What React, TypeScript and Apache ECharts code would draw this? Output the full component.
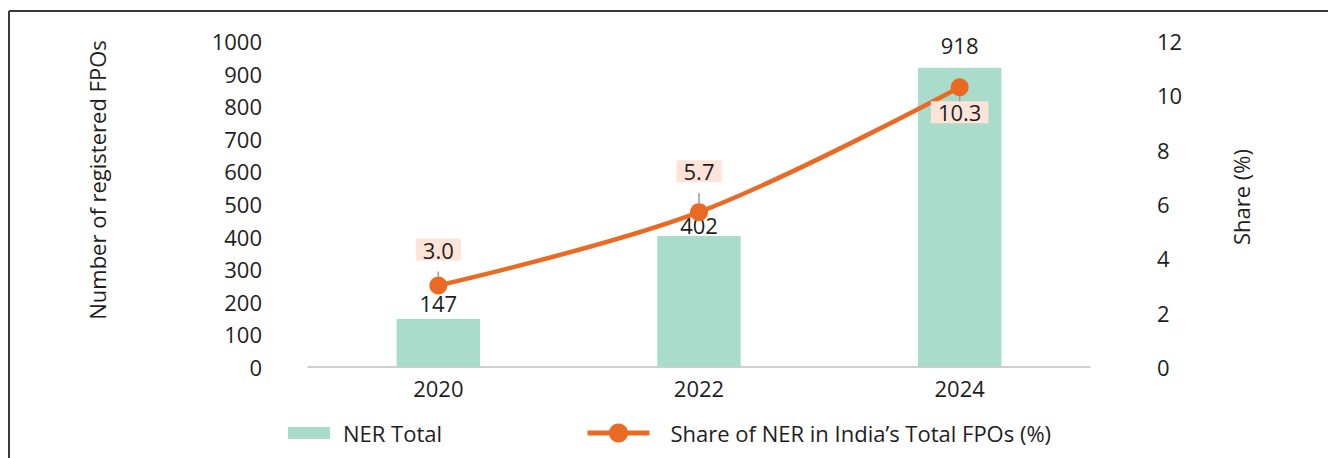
import React, { useEffect, useRef } from "react";
import * as echarts from "echarts";

const years = ["2020", "2022", "2024"];
const nerTotal = [147, 402, 918];
const sharePct = [3.0, 5.7, 10.3];
const barLabelDistance = [5, 0, 12];
const shareLabelPos = ["top", "top", "bottom"];
const shareLabelDistance = [16, 21, 5];

const FONT = "'Open Sans', sans-serif";
const FS = 22;
const TEXT = "#1e1e1e";
const BAR = "#a9dccb";
const ORANGE = "#ea6a24";
const PEACH = "#fde3d8";

export default function App() {
  const ref = useRef<HTMLDivElement>(null);
  useEffect(() => {
    if (!ref.current) return;
    const chart = echarts.init(ref.current, undefined, { renderer: "svg" });
    chart.setOption({
      animation: false,
      backgroundColor: "#ffffff",
      textStyle: { fontFamily: FONT },
      grid: { left: 308, right: 238, top: 41, bottom: 91 },
      legend: [
        {
          data: ["NER Total"],
          left: 283,
          top: 417,
          itemWidth: 42,
          itemHeight: 12,
          icon: "rect",
          textStyle: { fontFamily: FONT, fontSize: FS, color: TEXT, padding: [0, 0, 0, 8] },
        },
        {
          data: ["Share of NER in India\u2019s Total FPOs (%)"],
          left: 580,
          top: 417,
          itemWidth: 62,
          itemHeight: 24,
          lineStyle: { width: 5, color: ORANGE },
          itemStyle: { color: ORANGE },
          textStyle: { fontFamily: FONT, fontSize: FS, color: TEXT, padding: [0, 0, 0, 16] },
        },
      ],
      xAxis: {
        type: "category",
        data: years,
        axisLine: { lineStyle: { color: "#bfbfbf", width: 1.5 } },
        axisTick: { show: false },
        axisLabel: { fontFamily: FONT, fontSize: FS, color: TEXT, margin: 10 },
      },
      yAxis: [
        {
          type: "value",
          min: 0,
          max: 1000,
          interval: 100,
          splitLine: { show: false },
          axisLine: { show: false },
          axisTick: { show: false },
          axisLabel: {
            fontFamily: FONT,
            fontSize: FS,
            color: TEXT,
            margin: 46,
            formatter: (v: number) => String(v),
          },
        },
        {
          type: "value",
          min: 0,
          max: 12,
          interval: 2,
          position: "right",
          splitLine: { show: false },
          axisLine: { show: false },
          axisTick: { show: false },
          axisLabel: { fontFamily: FONT, fontSize: FS, color: TEXT, margin: 67 },
        },
      ],
      series: [
        {
          name: "NER Total",
          type: "bar",
          barWidth: "32%",
          itemStyle: { color: BAR },
          data: nerTotal.map((v, i) => ({
            value: v,
            label: {
              show: true,
              position: "top",
              distance: barLabelDistance[i],
              fontFamily: FONT,
              fontSize: FS,
              color: TEXT,
            },
          })),
        },
        {
          name: "Share of NER in India\u2019s Total FPOs (%)",
          type: "line",
          yAxisIndex: 1,
          smooth: 0.35,
          symbol: "circle",
          symbolSize: 18,
          z: 5,
          lineStyle: { color: ORANGE, width: 4.5 },
          itemStyle: { color: ORANGE },
          labelLine: { show: true, lineStyle: { color: "#999999", width: 1.5 } },
          data: sharePct.map((v, i) => ({
            value: v,
            label: {
              show: true,
              position: shareLabelPos[i],
              distance: shareLabelDistance[i],
              formatter: (p: any) => Number(p.value).toFixed(1),
              fontFamily: FONT,
              fontSize: FS,
              color: TEXT,
              backgroundColor: PEACH,
              padding: [0, 7, 0, 7],
            },
          })),
        },
      ],
      graphic: [
        {
          type: "line",
          shape: { x1: 9, y1: 11, x2: 1328, y2: 11 },
          style: { stroke: "#3a3a3a", lineWidth: 2 },
        },
        {
          type: "line",
          shape: { x1: 9, y1: 11, x2: 9, y2: 458 },
          style: { stroke: "#3a3a3a", lineWidth: 2 },
        },
        {
          type: "text",
          x: 97,
          y: 180,
          rotation: Math.PI / 2,
          style: {
            text: "Number of registered FPOs",
            fontFamily: FONT,
            fontSize: FS,
            fill: TEXT,
            align: "center",
            verticalAlign: "middle",
          },
        },
        {
          type: "text",
          x: 1241,
          y: 197,
          rotation: Math.PI / 2,
          style: {
            text: "Share (%)",
            fontFamily: FONT,
            fontSize: FS,
            fill: TEXT,
            align: "center",
            verticalAlign: "middle",
          },
        },
      ],
    });
    return () => chart.dispose();
  }, []);
  return (
    <div
      ref={ref}
      style={{ position: "absolute", left: 0, top: 0, width: 1328, height: 458 }}
    />
  );
}
